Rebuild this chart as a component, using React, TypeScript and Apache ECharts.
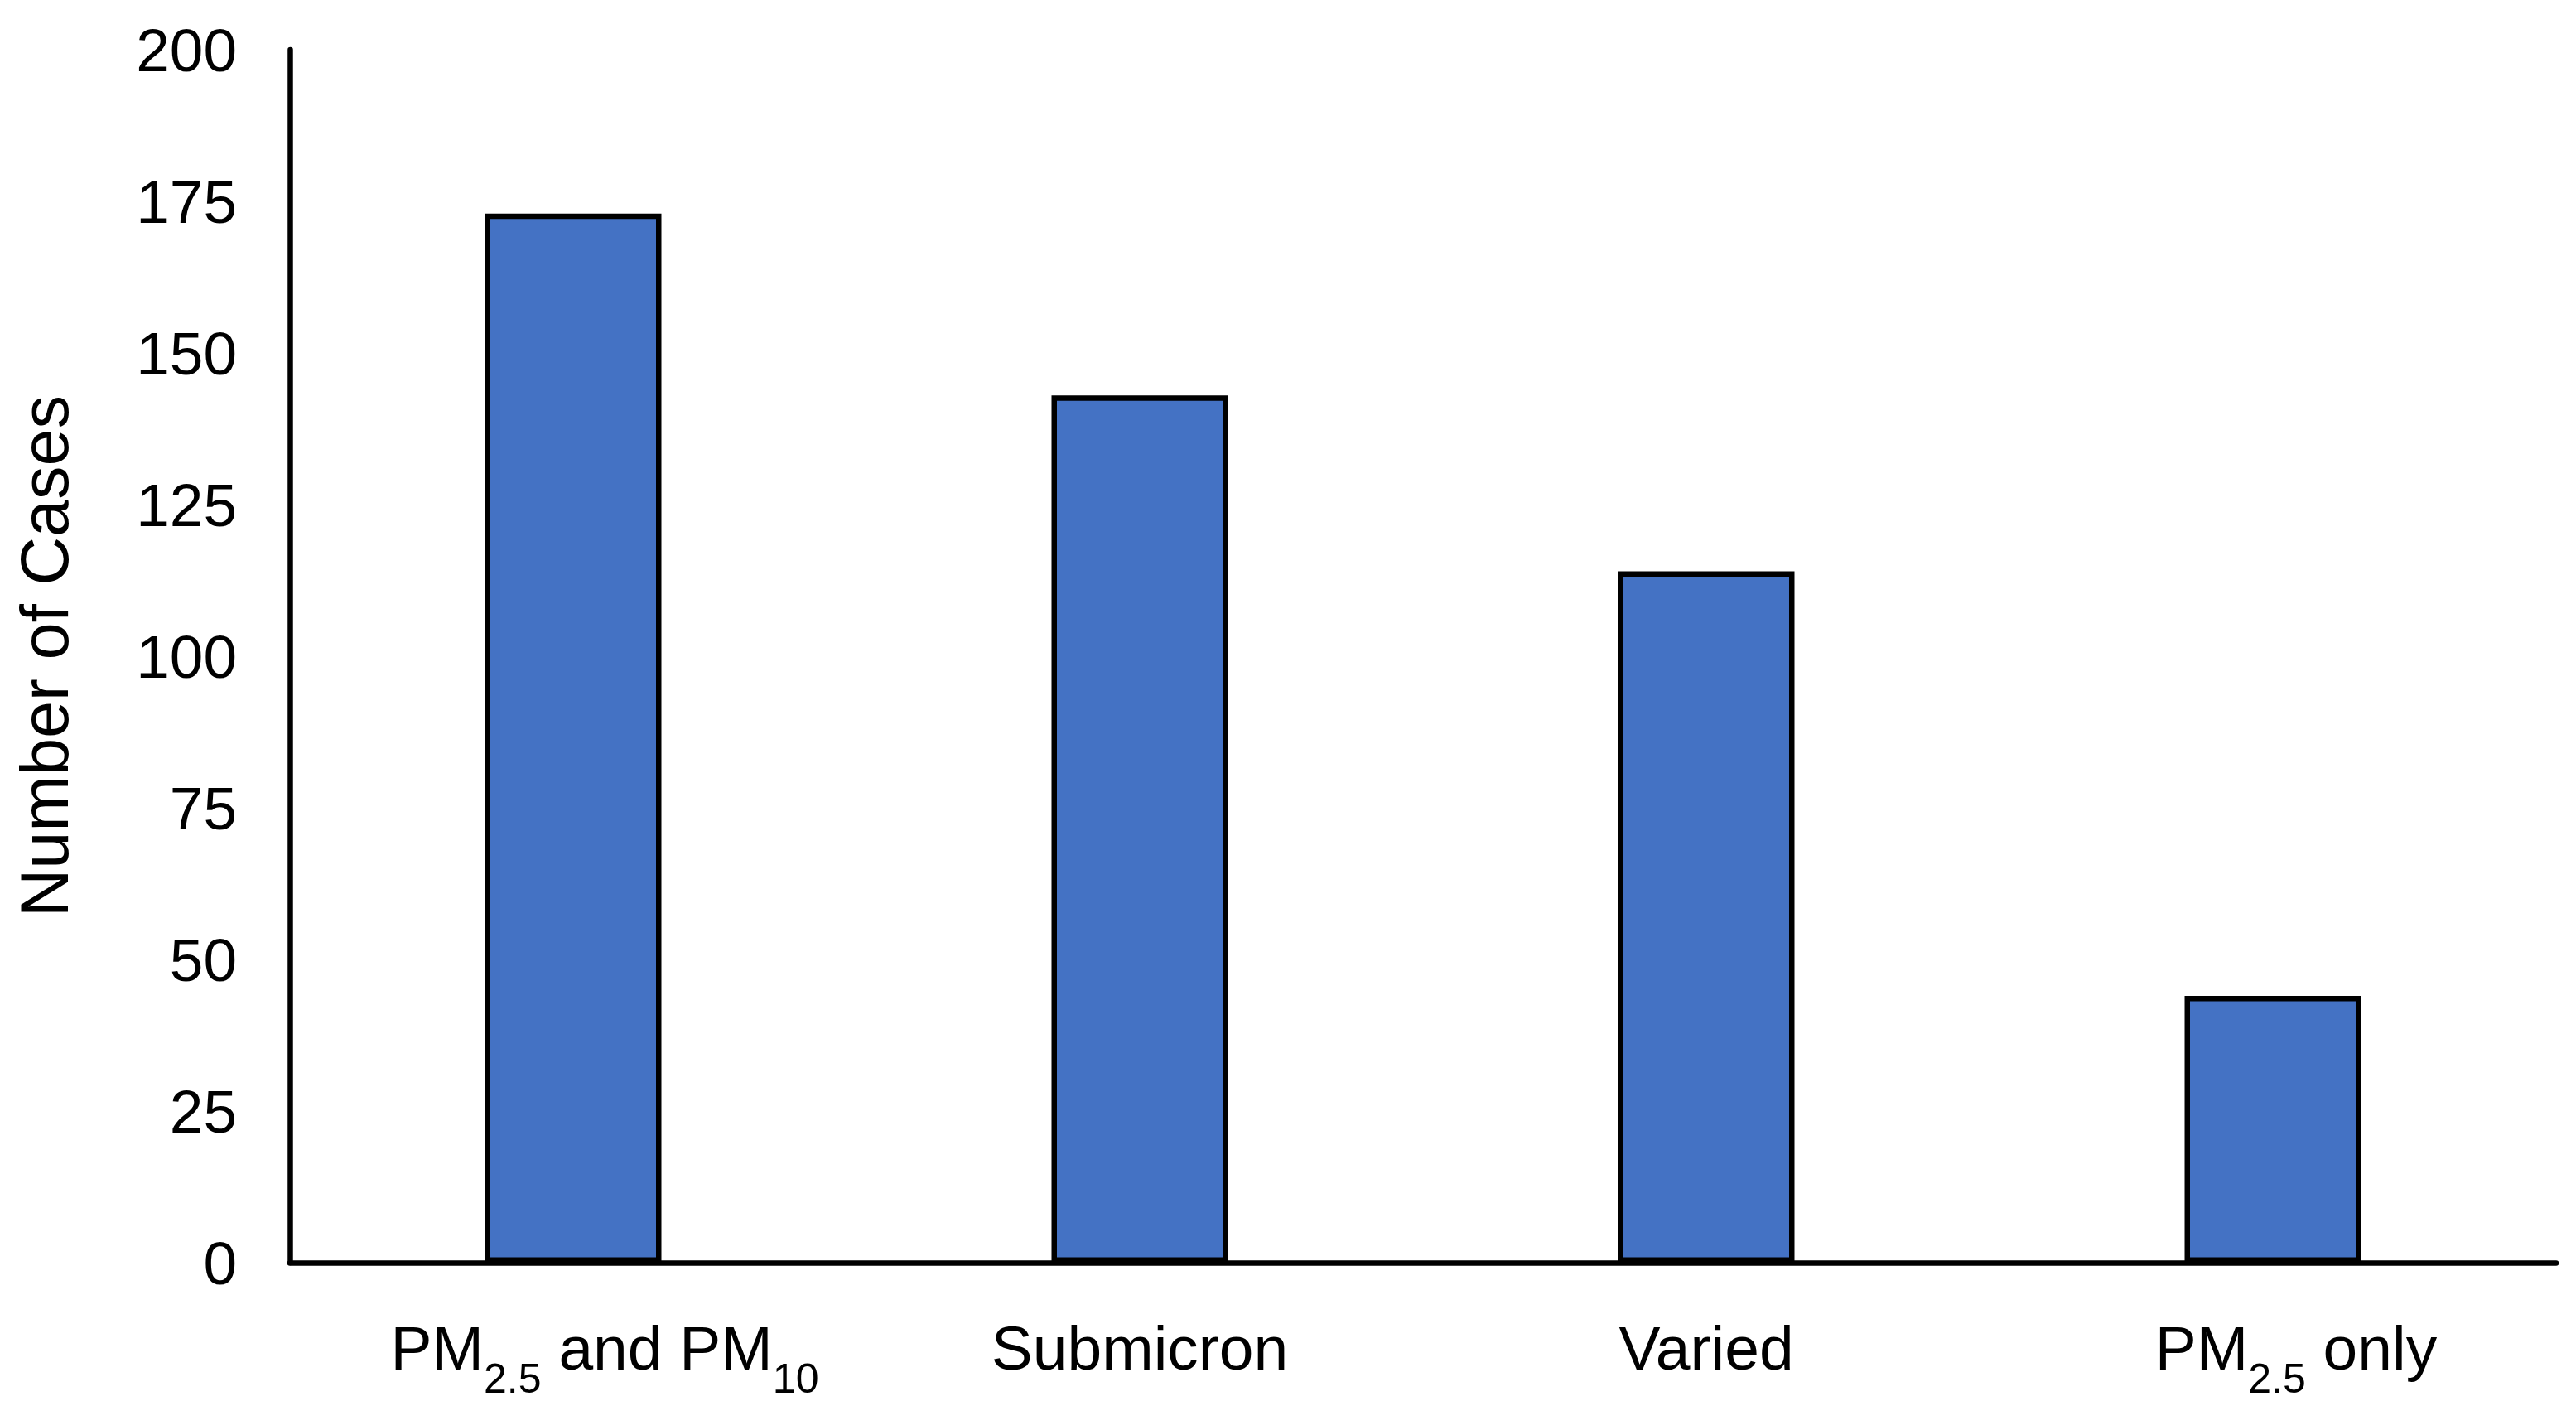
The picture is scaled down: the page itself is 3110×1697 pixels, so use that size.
import React, { useEffect, useRef } from "react";
import * as echarts from "echarts";

const categories = ["PM2.5 and PM10", "Submicron", "Varied", "PM2.5 only"];
const caseCounts = [173, 143, 114, 44];
const yTicks = [0, 25, 50, 75, 100, 125, 150, 175, 200];
const yTitle = "Number of Cases";

const FONT = "'Liberation Sans', Arial, Helvetica, sans-serif";

function toRich(label: string): string {
  const parts = label.split(/(PM)(2\.5|10)/);
  let out = "";
  let subChars = 0;
  for (let i = 0; i < parts.length; i++) {
    const p = parts[i];
    if (p === undefined || p === "") continue;
    if (i % 3 === 2) {
      out += `{s|${p}}`;
      subChars += p.length;
    } else out += `{n|${p}}`;
  }
  if (subChars > 0) {
    const w = subChars <= 3 ? "w3" : "w5";
    out = `{${w}| }` + out;
  }
  return out;
}

export default function App() {
  const ref = useRef<HTMLDivElement>(null);
  useEffect(() => {
    document.body.style.margin = "0";
    if (!ref.current) return;
    const chart = echarts.init(ref.current, undefined, { renderer: "svg" });
    chart.setOption({
      animation: false,
      backgroundColor: "#ffffff",
      grid: { left: 350, right: 24, top: 60, bottom: 173, containLabel: false },
      xAxis: {
        type: "category",
        data: categories,
        axisTick: { show: false },
        axisLine: { show: true, lineStyle: { color: "#000000", width: 6.5 } },
        axisLabel: {
          interval: 0,
          margin: 103,
          verticalAlign: "middle",
          color: "#000000",
          formatter: (v: string) => toRich(v),
          rich: {
            n: { fontSize: 75, fontFamily: FONT, color: "#000000" },
            s: { fontSize: 50, fontFamily: FONT, color: "#000000", padding: [73, 0, 0, 0] },
            w3: { width: 56, fontSize: 10 },
            w5: { width: 76, fontSize: 10 },
          },
        },
      },
      yAxis: {
        type: "value",
        min: yTicks[0],
        max: yTicks[yTicks.length - 1],
        interval: yTicks[1] - yTicks[0],
        name: yTitle,
        nameLocation: "middle",
        nameGap: 256,
        nameTextStyle: { fontSize: 81, fontFamily: FONT, color: "#000000" },
        splitLine: { show: false },
        axisTick: { show: false },
        axisLine: { show: true, lineStyle: { color: "#000000", width: 6.5 } },
        axisLabel: { margin: 64, fontSize: 73, fontFamily: FONT, color: "#000000" },
      },
      series: [
        {
          type: "bar",
          data: caseCounts,
          barWidth: 213,
          itemStyle: { color: "#4472C4", borderColor: "#000000", borderWidth: 6.5 },
        },
      ],
    });
    return () => chart.dispose();
  }, []);
  return <div ref={ref} style={{ width: 3110, height: 1697 }} />;
}
